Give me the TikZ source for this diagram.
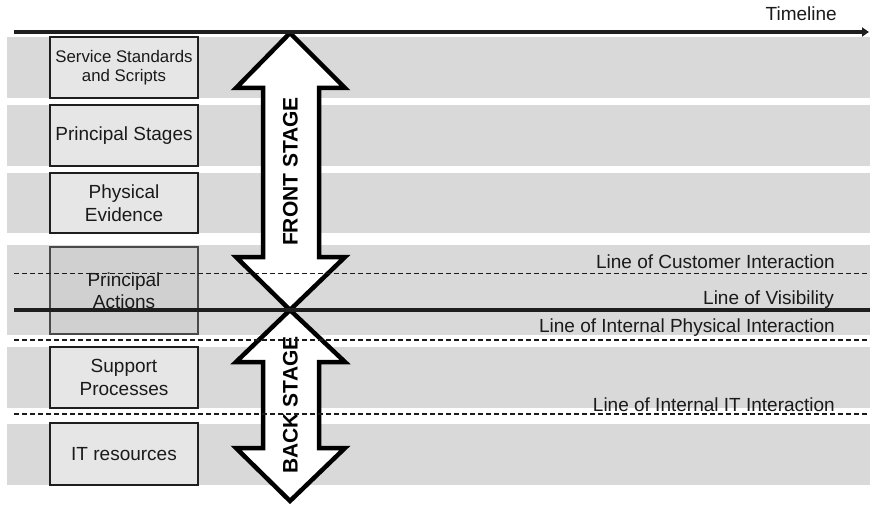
\documentclass[tikz,border=0pt]{standalone}
\usepackage{fontspec}
\setmainfont{Liberation Sans}
\usetikzlibrary{arrows.meta}
\definecolor{bandgray}{HTML}{D9D9D9}
\definecolor{boxfill}{HTML}{E6E6E6}
\definecolor{boxline}{HTML}{1E1E1E}
\definecolor{actfill}{HTML}{D0D0D0}
\definecolor{actline}{HTML}{4A4A4A}
\definecolor{txt}{HTML}{1A1A1A}
\begin{document}
\begin{tikzpicture}[x=1pt,y=-1pt,
  band/.style={fill=bandgray,draw=none},
  stagebox/.style={draw=boxline,line width=2pt,fill=boxfill,minimum width=148pt,align=center,
    font=\fontsize{19}{22.5}\selectfont,text=txt,inner sep=0pt},
  dashline/.style={line width=1.2pt,dash pattern=on 5pt off 3pt,draw=txt},
  lbl/.style={anchor=base east,font=\fontsize{19}{22}\selectfont,text=txt,inner sep=0pt},
  bigarrow/.style={draw=black,line width=4.5pt,fill=white,miter limit=10},
  stagetext/.style={font=\bfseries\fontsize{21}{24}\selectfont,rotate=90,inner sep=0pt}
]
\useasboundingbox[fill=white] (0,0) rectangle (870,505);

% bands
\fill[band] (7,37) rectangle (870,98);
\fill[band] (7,105) rectangle (870,166);
\fill[band] (7,173) rectangle (870,233);
\fill[band] (7,245) rectangle (870,335);
\fill[band] (7,347) rectangle (870,408);
\fill[band] (7,424) rectangle (870,485);

% boxes
\node[stagebox,minimum height=61pt,font=\fontsize{16.8}{19.5}\selectfont] (sss) at (124,67.5) {Service Standards\\and Scripts};
\node[stagebox,minimum height=61pt] (ps) at (124,135.5) {Principal Stages};
\node[stagebox,minimum height=60pt] (pe) at (124,203) {Physical\\Evidence};
\node[stagebox,minimum height=87pt,fill=actfill,draw=actline] (pa) at (124,290.5) {Principal\\Actions};
\node[stagebox,minimum height=61pt] (sp) at (124,377.5) {Support\\Processes};
\node[stagebox,minimum height=62pt] (it) at (124,454) {IT resources};

% stage arrows
\draw[bigarrow] (290,33) -- (236,88) -- (263,88) -- (263,257) -- (236,257) -- (290,310)
  -- (345,257) -- (319,257) -- (319,88) -- (345,88) -- cycle;
\draw[bigarrow] (290,310) -- (236,362) -- (263,362) -- (263,448) -- (236,448) -- (290,501)
  -- (345,448) -- (319,448) -- (319,362) -- (345,362) -- cycle;
\node[stagetext] (front) at (290.5,171.5) {FRONT STAGE};
\node[stagetext] (back) at (290.5,405) {BACK STAGE};

% lines
\coordinate (tl0) at (14,32);
\coordinate (tl1) at (869,32);
\draw[line width=4.5pt,draw=boxline,-{Triangle[length=7pt,width=9pt]}] (tl0) -- (tl1);
\coordinate (ci0) at (14,273.5);
\coordinate (ci1) at (870,273.5);
\draw[dashline] (ci0) -- (ci1);
\coordinate (vi0) at (14,309.5);
\coordinate (vi1) at (870,309.5);
\draw[line width=4pt,draw=boxline] (vi0) -- (vi1);
\coordinate (ip0) at (14,340);
\coordinate (ip1) at (870,340);
\draw[dashline] (ip0) -- (ip1);
\coordinate (ii0) at (14,414);
\coordinate (ii1) at (870,414);
\draw[dashline] (ii0) -- (ii1);

% labels
\node[lbl] (ltime) at (837,20.7) {Timeline};
\node[lbl] (lci) at (835,268.5) {Line of Customer Interaction};
\node[lbl] (lvi) at (834,304) {Line of Visibility};
\node[lbl] (lip) at (835,332.7) {Line of Internal Physical Interaction};
\node[lbl] (lii) at (835,411) {Line of Internal IT Interaction};
\end{tikzpicture}
\end{document}
